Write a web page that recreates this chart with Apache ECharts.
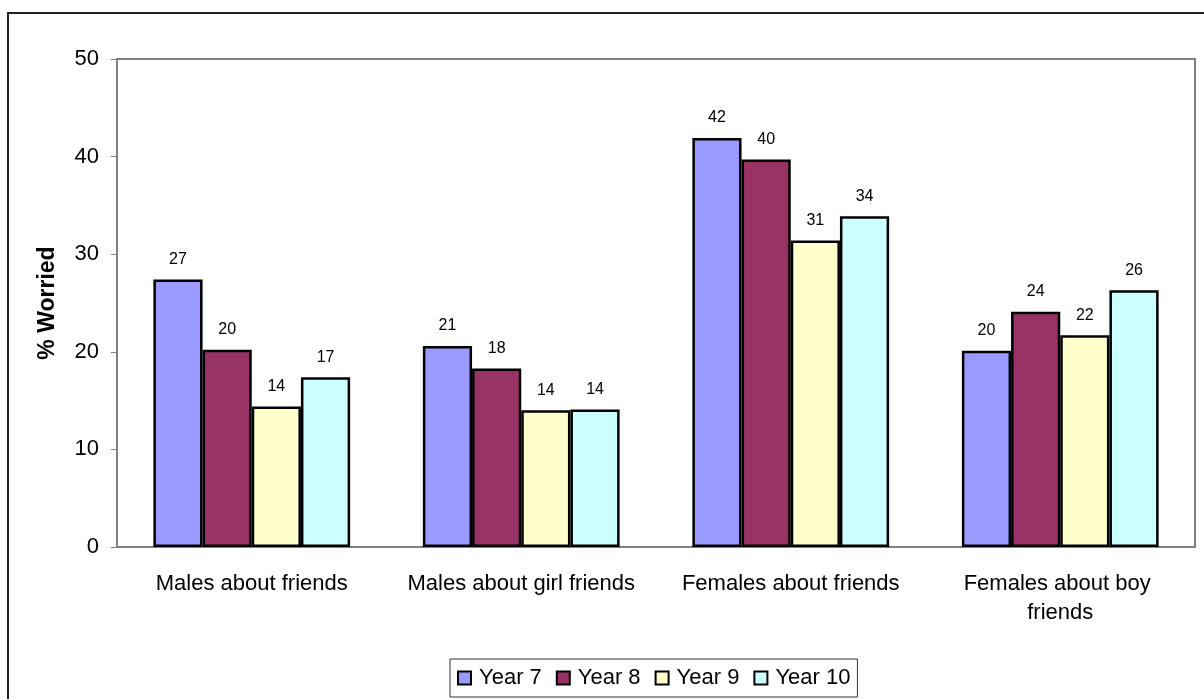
<!DOCTYPE html>
<html>
<head>
<meta charset="utf-8">
<script src="https://cdn.jsdelivr.net/npm/echarts@6/dist/echarts.min.js"></script>
<style>
  html, body { margin: 0; padding: 0; background: #fff; }
  #main { width: 1204px; height: 699px; }
</style>
</head>
<body>
<div id="main"></div>
<script>
// categories and series values
const categories = ['Males about friends', 'Males about girl friends', 'Females about friends', 'Females about boy friends'];
const year7 = [27.4, 20.6, 41.9, 20.1];
const year8 = [20.2, 18.3, 39.7, 24.1];
const year9 = [14.4, 14.0, 31.4, 21.7];
const year10 = [17.4, 14.1, 33.9, 26.3];
const seriesNames = ['Year 7', 'Year 8', 'Year 9', 'Year 10'];
const seriesColors = ['#9999FF', '#993366', '#FFFFCC', '#CCFFFF'];

const chart = echarts.init(document.getElementById('main'));

// build series
const allData = [year7, year8, year9, year10];
const series = allData.map((d, i) => ({
  name: seriesNames[i],
  type: 'bar',
  data: d,
  barGap: '0%',
  barCategoryGap: '27%',
  itemStyle: { color: seriesColors[i], borderColor: '#000', borderWidth: 2.5 },
  label: {
    show: true,
    position: 'top',
    distance: 12,
    fontSize: 16,
    color: '#000',
    fontFamily: 'Liberation Sans, Arial',
    formatter: p => Math.round(p.value)
  }
}));

const option = {
  animation: false,
  textStyle: { fontFamily: 'Liberation Sans, Arial' },
  graphic: [{
    type: 'rect',
    shape: { x: 8, y: 13, width: 1300, height: 800 },
    style: { fill: 'none', stroke: '#222', lineWidth: 2 },
    silent: true
  }],
  grid: {
    left: 117, right: 9, top: 59, bottom: 152,
    show: true, borderColor: '#808080', borderWidth: 2
  },
  legend: {
    left: 450, top: 659,
    data: seriesNames,
    icon: 'rect',
    itemWidth: 13, itemHeight: 13,
    itemGap: 14,
    padding: [8, 7, 8, 7],
    borderColor: '#333', borderWidth: 1,
    itemStyle: { borderColor: '#000', borderWidth: 2 },
    textStyle: { fontSize: 22, color: '#000', padding: [0, 0, 0, 3] }
  },
  xAxis: {
    type: 'category',
    data: categories,
    axisLine: { lineStyle: { color: '#808080', width: 2 } },
    axisTick: { length: 8, lineStyle: { color: '#808080' } },
    axisLabel: {
      interval: 0,
      fontSize: 22, color: '#000', margin: 22,
      width: 250, overflow: 'break', lineHeight: 29
    }
  },
  yAxis: {
    type: 'value',
    min: 0, max: 50, interval: 10,
    name: '% Worried',
    nameLocation: 'middle',
    nameRotate: 90,
    nameGap: 58,
    nameTextStyle: { fontSize: 23, fontWeight: 'bold', color: '#000' },
    splitLine: { show: false },
    axisLine: { show: true, lineStyle: { color: '#808080', width: 2 } },
    axisTick: { show: true, length: 6, lineStyle: { color: '#808080' } },
    axisLabel: { fontSize: 22, color: '#000', margin: 18 }
  },
  series: series
};

chart.setOption(option);
</script>
</body>
</html>
